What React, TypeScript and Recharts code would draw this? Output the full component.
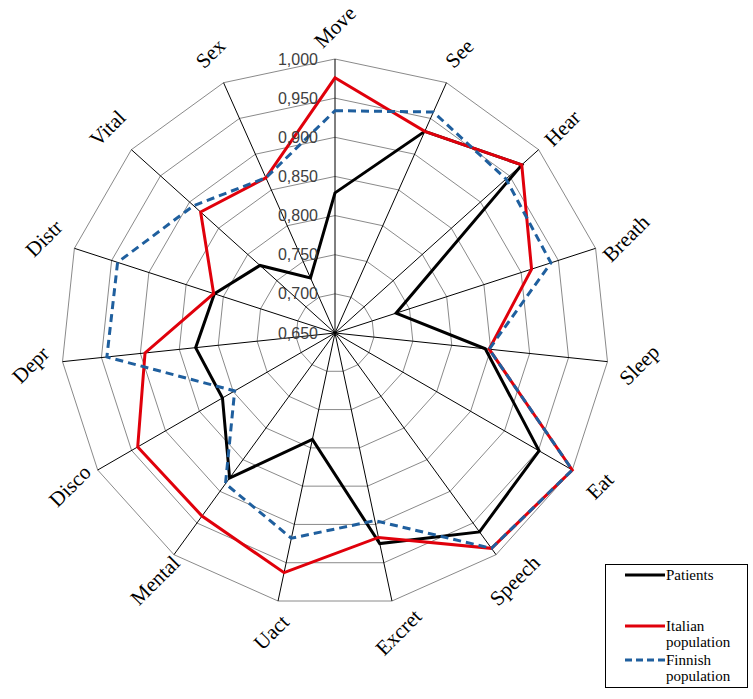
import { RadarChart, Radar, PolarGrid, PolarAngleAxis, PolarRadiusAxis } from "recharts";

const categories = ["Move", "See", "Hear", "Breath", "Sleep", "Eat", "Speech", "Excret", "Uact", "Mental", "Disco", "Depr", "Distr", "Vital", "Sex"];
const patients = [0.829, 0.932, 0.971, 0.732, 0.843, 0.951, 0.964, 0.925, 0.789, 0.879, 0.816, 0.829, 0.812, 0.779, 0.727];
const italian = [0.976, 0.932, 0.971, 0.914, 0.848, 1.0, 0.99, 0.917, 0.963, 0.939, 0.941, 0.894, 0.813, 0.881, 0.867];
const finnish = [0.934, 0.959, 0.944, 0.94, 0.848, 1.0, 0.99, 0.895, 0.918, 0.888, 0.798, 0.943, 0.942, 0.893, 0.867];
const radiusTicks = [0.65, 0.7, 0.75, 0.8, 0.85, 0.9, 0.95, 1.0];

const data = categories.map((c, i) => ({ cat: c, patients: patients[i], italian: italian[i], finnish: finnish[i] }));

const serif = "'Liberation Serif', 'DejaVu Serif', serif";
const sans = "'Liberation Sans', Arial, sans-serif";

// category labels are turned 45° like in the original
function AngleTick({ x, y, payload }: any) {
  return (
    <text x={x} y={y} textAnchor="middle" dominantBaseline="central" fontFamily={serif} fontSize={21}
      fill="#000" transform={`rotate(-45, ${x}, ${y})`}>
      {payload.value}
    </text>
  );
}

function RadiusTick({ x, y, payload }: any) {
  return (
    <text x={x - 17} y={y} textAnchor="end" dominantBaseline="central" fontFamily={sans} fontSize={16} fill="#404040">
      {payload.value.toFixed(3).replace(".", ",")}
    </text>
  );
}

const legendItems = [
  { lines: ["Patients"], color: "#000", dash: undefined, top: 1 },
  { lines: ["Italian", "population"], color: "#e0000b", dash: undefined, top: 52 },
  { lines: ["Finnish", "population"], color: "#1f5f9e", dash: "7 4", top: 86 },
];

function LegendBox() {
  return (
    <div style={{ position: "absolute", left: 605, top: 564, width: 141, height: 122, border: "1px solid #000", background: "#fff" }}>
      {legendItems.map((it) => (
        <div key={it.lines[0]} style={{ position: "absolute", left: 18, top: it.top, display: "flex", alignItems: "flex-start" }}>
          <svg width={42} height={18}>
            <line x1={1} y1={9} x2={41} y2={9} stroke={it.color} strokeWidth={3} strokeDasharray={it.dash} />
          </svg>
          <div style={{ fontFamily: serif, fontSize: 15, lineHeight: "16px", marginTop: 1, color: "#000" }}>
            {it.lines.map((l) => <div key={l}>{l}</div>)}
          </div>
        </div>
      ))}
    </div>
  );
}

export default function App() {
  return (
    <div style={{ position: "absolute", left: 0, top: 0, width: 753, height: 699, background: "#fff" }}>
      <RadarChart width={753} height={699} data={data} cx={335} cy={333} outerRadius={274}
        margin={{ top: 0, right: 0, bottom: 0, left: 0 }}>
        <PolarGrid gridType="polygon" radialLines={false} stroke="#8a8a8a" strokeWidth={1} />
        <PolarGrid gridType="polygon" polarRadius={[0]} stroke="#000" strokeWidth={1} />
        <PolarAngleAxis dataKey="cat" tick={<AngleTick />} tickLine={false} tickSize={32} axisLine={false} />
        <PolarRadiusAxis angle={90} domain={[0.65, 1]} ticks={radiusTicks} tickCount={8} type="number"
          axisLine={false} tickLine={false} tick={<RadiusTick />} />
        <Radar name="Patients" dataKey="patients" stroke="#000" strokeWidth={3} fill="none" dot={false} isAnimationActive={false} />
        <Radar name="Italian population" dataKey="italian" stroke="#e0000b" strokeWidth={3} fill="none" dot={false} isAnimationActive={false} />
        <Radar name="Finnish population" dataKey="finnish" stroke="#1f5f9e" strokeWidth={3} strokeDasharray="8 5" fill="none" dot={false} isAnimationActive={false} />
      </RadarChart>
      <LegendBox />
    </div>
  );
}
